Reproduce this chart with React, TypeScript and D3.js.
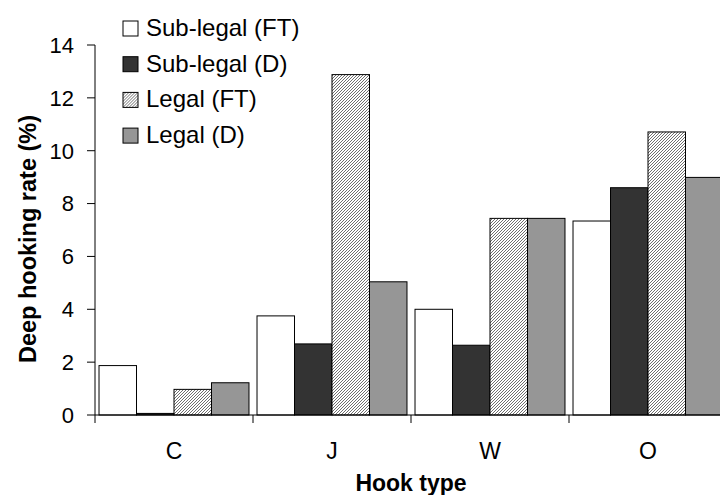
import { useEffect, useRef } from 'react';
import * as d3 from 'd3';

const categories = ['C', 'J', 'W', 'O'];
const seriesNames = ['Sub-legal (FT)', 'Sub-legal (D)', 'Legal (FT)', 'Legal (D)'];
const subLegalFT = [1.87, 3.75, 4.0, 7.34];
const subLegalD = [0.06, 2.69, 2.64, 8.6];
const legalFT = [0.97, 12.88, 7.44, 10.71];
const legalD = [1.22, 5.04, 7.44, 8.99];
const yTicks = [0, 2, 4, 6, 8, 10, 12, 14];

const WIDTH = 720;
const HEIGHT = 495;
const FONT = 'Arial, "Liberation Sans", sans-serif';

export default function App() {
  const svgRef = useRef<SVGSVGElement>(null);

  useEffect(() => {
    if (!svgRef.current) return;
    const svg = d3.select(svgRef.current);
    svg.selectAll('*').remove();

    const margin = { top: 45, left: 95, bottom: 80 };
    const plotBottom = HEIGHT - margin.bottom;
    const plotRight = 727;

    const fills = ['#ffffff', '#333333', 'url(#hatch)', '#969696'];
    const series = [subLegalFT, subLegalD, legalFT, legalD];

    // fine diagonal hatch, reads as light gray
    const defs = svg.append('defs');
    const pat = defs.append('pattern')
      .attr('id', 'hatch')
      .attr('patternUnits', 'userSpaceOnUse')
      .attr('width', 3)
      .attr('height', 3);
    pat.append('rect').attr('width', 3).attr('height', 3).attr('fill', '#ffffff');
    pat.append('path')
      .attr('d', 'M-1,1 L1,-1 M0,3 L3,0 M2,4 L4,2')
      .attr('stroke', '#555555')
      .attr('stroke-width', 0.85);

    const y = d3.scaleLinear().domain([0, 14]).range([plotBottom, margin.top]);
    const x0 = d3.scaleBand<string>().domain(categories).range([margin.left, plotRight]).padding(0);
    const x1 = d3.scaleBand<number>()
      .domain(d3.range(seriesNames.length))
      .range([0, x0.bandwidth()])
      .paddingInner(0)
      .paddingOuter(0.107);

    // bars
    const g = svg.append('g');
    categories.forEach((cat, ci) => {
      series.forEach((vals, si) => {
        g.append('rect')
          .attr('x', x0(cat)! + x1(si)!)
          .attr('y', y(vals[ci]))
          .attr('width', x1.bandwidth())
          .attr('height', y(0) - y(vals[ci]))
          .attr('fill', fills[si])
          .attr('stroke', '#000')
          .attr('stroke-width', 1);
      });
    });

    // y axis
    svg.append('line')
      .attr('x1', margin.left).attr('x2', margin.left)
      .attr('y1', margin.top).attr('y2', plotBottom)
      .attr('stroke', '#000');
    yTicks.forEach(t => {
      svg.append('line')
        .attr('x1', margin.left - 8).attr('x2', margin.left)
        .attr('y1', y(t)).attr('y2', y(t))
        .attr('stroke', '#000');
      svg.append('text')
        .attr('x', margin.left - 21)
        .attr('y', y(t))
        .attr('dy', '0.36em')
        .attr('text-anchor', 'end')
        .attr('font-family', FONT)
        .attr('font-size', 22)
        .text(t);
    });

    // x axis
    svg.append('line')
      .attr('x1', margin.left).attr('x2', plotRight)
      .attr('y1', plotBottom).attr('y2', plotBottom)
      .attr('stroke', '#000');
    categories.forEach(cat => {
      const xs = x0(cat)!;
      svg.append('line')
        .attr('x1', xs).attr('x2', xs)
        .attr('y1', plotBottom).attr('y2', plotBottom + 8)
        .attr('stroke', '#000');
      svg.append('text')
        .attr('x', xs + x0.bandwidth() / 2)
        .attr('y', 459)
        .attr('text-anchor', 'middle')
        .attr('font-family', FONT)
        .attr('font-size', 23)
        .text(cat);
    });

    // axis titles
    svg.append('text')
      .attr('x', (margin.left + plotRight) / 2)
      .attr('y', 491)
      .attr('text-anchor', 'middle')
      .attr('font-family', FONT)
      .attr('font-weight', 'bold')
      .attr('font-size', 23)
      .text('Hook type');
    svg.append('text')
      .attr('transform', `translate(36,239) rotate(-90)`)
      .attr('text-anchor', 'middle')
      .attr('font-family', FONT)
      .attr('font-weight', 'bold')
      .attr('font-size', 23.5)
      .text('Deep hooking rate (%)');

    // legend
    const legend = svg.append('g').attr('transform', 'translate(123,21)');
    seriesNames.forEach((name, i) => {
      const row = legend.append('g').attr('transform', `translate(0,${i * 35.7})`);
      row.append('rect')
        .attr('x', 0).attr('y', 0)
        .attr('width', 15).attr('height', 15)
        .attr('fill', fills[i])
        .attr('stroke', '#000');
      row.append('text')
        .attr('x', 23)
        .attr('y', 15)
        .attr('font-family', FONT)
        .attr('font-size', 24)
        .text(name);
    });
  }, []);

  return (
    <svg
      ref={svgRef}
      width={WIDTH}
      height={HEIGHT}
      style={{ position: 'fixed', left: 0, top: 0, background: '#fff', display: 'block' }}
    />
  );
}
